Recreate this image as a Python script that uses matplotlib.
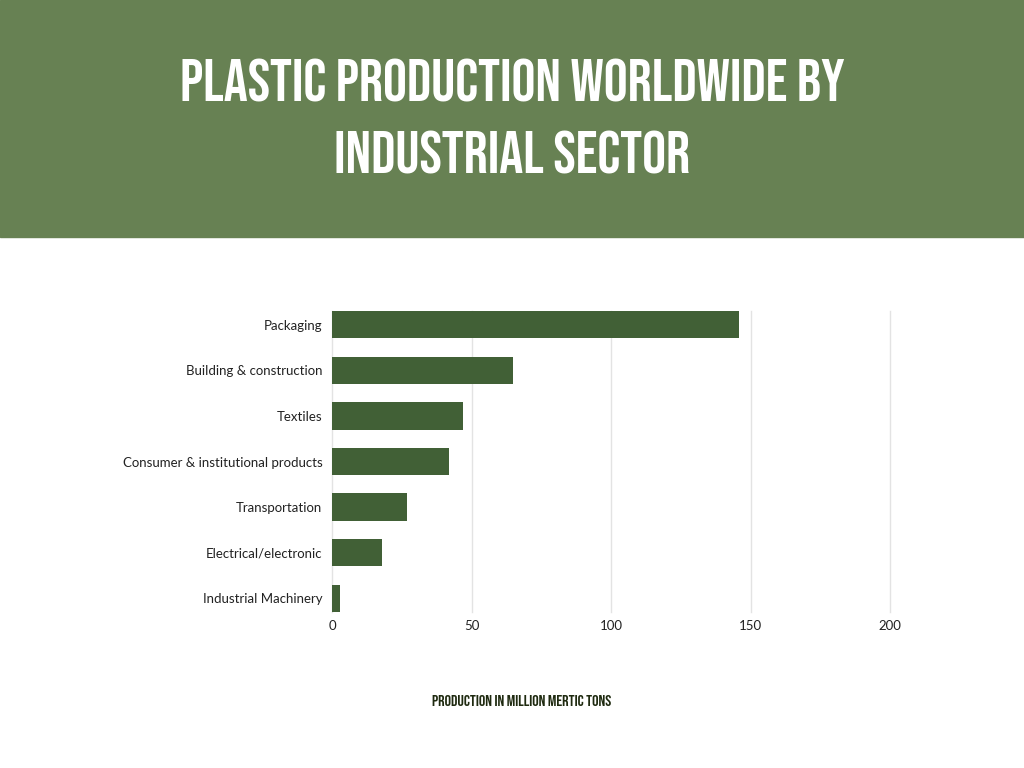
import matplotlib.pyplot as plt
from matplotlib.patches import Rectangle
from matplotlib import font_manager

# data
sectors = ["Packaging", "Building & construction", "Textiles",
           "Consumer & institutional products", "Transportation",
           "Electrical/electronic", "Industrial Machinery"]
production = [146, 65, 47, 42, 27, 18, 3]
xticks = [0, 50, 100, 150, 200]

title_lines = ["PLASTIC PRODUCTION WORLDWIDE BY", "INDUSTRIAL SECTOR"]
xlabel = "PRODUCTION IN MILLION MERTIC TONS"

header_color = "#678153"
bar_color = "#416036"

# condensed headline font (Bebas Neue if present)
names = {f.name for f in font_manager.fontManager.ttflist}
cond_font = "DejaVu Sans"
for cand in ["Bebas Neue", "Oswald", "DejaVu Sans Condensed"]:
    if cand in names:
        cond_font = cand
        break
title_size = 36 if cond_font == "Oswald" else 43

fig = plt.figure(figsize=(10.24, 7.68), dpi=100)
fig.patch.set_facecolor("white")

# green header band
fig.patches.append(Rectangle((0, 1 - 237 / 768), 1, 237 / 768,
                             transform=fig.transFigure, color=header_color, zorder=0))
for i, line in enumerate(title_lines):
    fig.text(0.5, 1 - (81 + 72 * i) / 768, line, ha="center", va="center",
             color="white", fontsize=title_size, fontweight="bold", family=cond_font,
             fontstretch="condensed")

ax = fig.add_axes([332 / 1024, 1 - 612 / 768, (890 - 332) / 1024, (612 - 311) / 768])
y = range(len(sectors))
ax.barh(y, production, height=0.6, color=bar_color, zorder=3)
ax.set_ylim(len(sectors) - 0.7, -0.3)
ax.set_xlim(0, 200)
ax.set_xticks(xticks)
ax.set_yticks(list(y))
ax.set_yticklabels(sectors, family="Lato", fontsize=9.5, color="#222222")
ax.tick_params(axis="x", labelsize=9.5, labelcolor="#222222", length=0, pad=6)
ax.tick_params(axis="y", length=0, pad=7)
for lab in ax.get_xticklabels():
    lab.set_family("Lato")
ax.grid(axis="x", color="#e3e3e3", linewidth=1, zorder=0)
for gl in ax.get_xgridlines():
    gl.set_clip_on(False)
for s in ax.spines.values():
    s.set_visible(False)

fig.text(522 / 1024, 1 - 700 / 768, xlabel, ha="center", va="center",
         color="#1f2a10", fontsize=11.5, fontweight="bold", family=cond_font,
         fontstretch="condensed")

fig.savefig("out.png", dpi=100)
